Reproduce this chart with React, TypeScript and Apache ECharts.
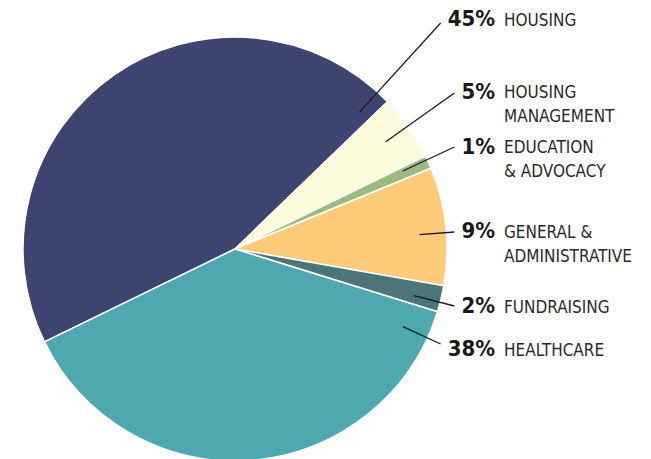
import React, { useEffect, useRef } from 'react';
import * as echarts from 'echarts';

// ---- data ----
const categories = ['HOUSING', 'HOUSING\nMANAGEMENT', 'EDUCATION\n& ADVOCACY', 'GENERAL &\nADMINISTRATIVE', 'FUNDRAISING', 'HEALTHCARE'];
const shares = [45, 5, 1, 9, 2, 38];
const percentLabels = ['45%', '5%', '1%', '9%', '2%', '38%'];
const sliceColors = ['#3d4470', '#fdfbdd', '#9cba7f', '#fecb7b', '#4d7479', '#4fa8b0'];

// ---- layout (label positions, px) ----
const PCT_RIGHT_X = 495;
const NAME_LEFT_X = 504;
const LINE_GAP = 7;
const LINE_START_R = 185;
const pctY = [18.5, 91.5, 146.5, 230, 305.5, 348.5];
const lineEndY = [23, 93, 147, 232, 306, 344];
const nameTopY = [8, 80, 135, 220, 295, 338];

const FONT = "'Liberation Sans Narrow', 'DejaVu Sans Condensed', 'Roboto Condensed', Roboto, sans-serif";
const CENTER: [number, number] = [235, 249];
const RADIUS = 212;

export default function App() {
  const ref = useRef<HTMLDivElement>(null);
  useEffect(() => {
    if (!ref.current) return;
    const chart = echarts.init(ref.current, undefined, { renderer: 'svg' });
    const baseData = categories.map((c, i) => ({ name: c, value: shares[i] }));
    chart.setOption({
      animation: false,
      backgroundColor: '#ffffff',
      series: [
        {
          type: 'pie',
          z: 1,
          center: CENTER,
          radius: RADIUS,
          startAngle: 206,
          clockwise: true,
          silent: true,
          avoidLabelOverlap: false,
          label: { show: false },
          labelLine: { show: false },
          itemStyle: { borderColor: '#ffffff', borderWidth: 1.5 },
          data: baseData.map((d, i) => ({ ...d, itemStyle: { color: sliceColors[i] } })),
        },
        {
          type: 'pie',
          z: 5,
          center: CENTER,
          radius: RADIUS,
          startAngle: 206,
          clockwise: true,
          silent: true,
          avoidLabelOverlap: false,
          itemStyle: { color: 'rgba(0,0,0,0)', borderWidth: 0 },
          label: {
            show: true,
            position: 'outside',
            overflow: 'none',
            formatter: (p: any) => percentLabels[p.dataIndex],
            color: '#1a1a1a',
            fontFamily: FONT,
            fontWeight: 'bold',
            fontSize: 22,
          },
          labelLine: {
            show: true,
            showAbove: true,
            length: 0,
            length2: 0,
            smooth: false,
            lineStyle: { color: '#1a1a1a', width: 1.3, opacity: 1 },
          },
          labelLayout: (p: any) => {
            const i = p.dataIndex;
            const endX = PCT_RIGHT_X - p.labelRect.width - LINE_GAP;
            const endY = lineEndY[i];
            const dx = endX - CENTER[0];
            const dy = endY - CENTER[1];
            const len = Math.sqrt(dx * dx + dy * dy);
            const start = [CENTER[0] + (dx / len) * LINE_START_R, CENTER[1] + (dy / len) * LINE_START_R];
            return {
              x: PCT_RIGHT_X,
              y: pctY[i],
              align: 'right',
              verticalAlign: 'middle',
              labelLinePoints: [start, [endX, endY], [endX, endY]],
            };
          },
          data: baseData,
        },
        {
          type: 'pie',
          z: 5,
          center: CENTER,
          radius: RADIUS,
          startAngle: 206,
          clockwise: true,
          silent: true,
          avoidLabelOverlap: false,
          itemStyle: { color: 'rgba(0,0,0,0)', borderWidth: 0 },
          label: {
            show: true,
            position: 'outside',
            overflow: 'none',
            formatter: (p: any) => categories[p.dataIndex],
            color: '#2a2a2a',
            fontFamily: FONT,
            fontWeight: 'normal',
            fontSize: 17,
            lineHeight: 24,
          },
          labelLine: { show: false },
          labelLayout: (p: any) => ({
            x: NAME_LEFT_X,
            y: nameTopY[p.dataIndex],
            align: 'left',
            verticalAlign: 'top',
          }),
          data: baseData,
        },
      ],
    });
    return () => chart.dispose();
  }, []);
  return <div ref={ref} style={{ position: 'absolute', left: 0, top: 0, width: 651, height: 459 }} />;
}
